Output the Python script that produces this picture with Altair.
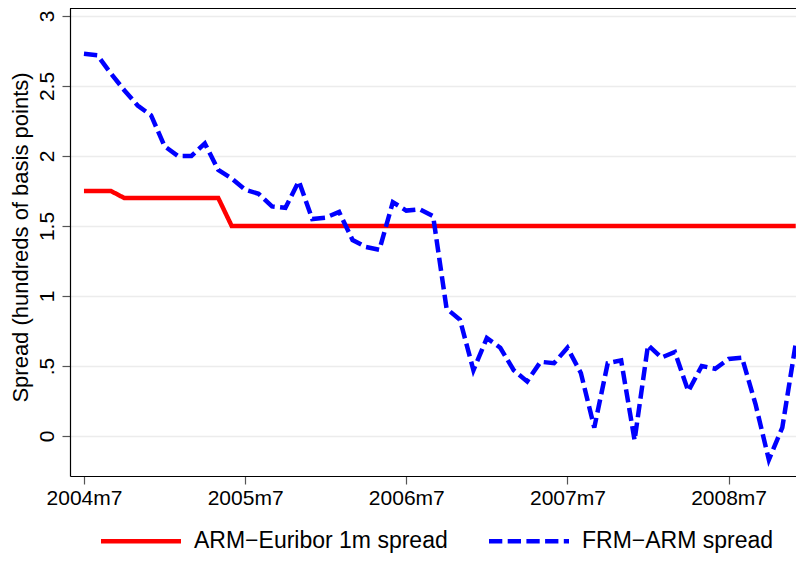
import altair as alt
import pandas as pd

# ---- data ----
month_index = list(range(54))  # 0 = 2004m7 ... 53 = 2008m12

arm_euribor = [1.75, 1.75, 1.75, 1.70, 1.70, 1.70, 1.70, 1.70, 1.70, 1.70,
               1.70, 1.50, 1.50, 1.50, 1.50, 1.50, 1.50, 1.50, 1.50, 1.50,
               1.50, 1.50, 1.50, 1.50, 1.50, 1.50, 1.50, 1.50, 1.50, 1.50,
               1.50, 1.50, 1.50, 1.50, 1.50, 1.50, 1.50, 1.50, 1.50, 1.50,
               1.50, 1.50, 1.50, 1.50, 1.50, 1.50, 1.50, 1.50, 1.50, 1.50,
               1.50, 1.50, 1.50, 1.50]

frm_arm = [2.73, 2.72, 2.59, 2.47, 2.36, 2.29, 2.07, 2.00, 2.00, 2.09,
           1.90, 1.84, 1.76, 1.73, 1.64, 1.63, 1.82, 1.55, 1.56, 1.60,
           1.40, 1.35, 1.33, 1.67, 1.61, 1.62, 1.57, 0.91, 0.83, 0.47,
           0.70, 0.63, 0.47, 0.39, 0.53, 0.52, 0.63, 0.45, 0.06, 0.52,
           0.54, -0.03, 0.65, 0.56, 0.60, 0.32, 0.50, 0.48, 0.55, 0.56,
           0.23, -0.17, 0.06, 0.66]

series_names = ["ARM\u2212Euribor 1m spread", "FRM\u2212ARM spread"]
series_colors = ["#ff0000", "#0000ff"]
series_dashes = [[1, 0], [13.3, 5.4]]

x_tick_values = [0, 12, 24, 36, 48]
x_tick_labels = ["2004m7", "2005m7", "2006m7", "2007m7", "2008m7"]
y_tick_values = [0, 0.5, 1, 1.5, 2, 2.5, 3]
y_tick_labels = ["0", ".5", "1", "1.5", "2", "2.5", "3"]

y_title = "Spread (hundreds of basis points)"

# ---- table ----
rows = []
for name, vals in zip(series_names, [arm_euribor, frm_arm]):
    for m, v in zip(month_index, vals):
        rows.append({"month": m, "value": v, "series": name})
df = pd.DataFrame(rows)


def label_expr(values, labels):
    expr = "''"
    for v, l in reversed(list(zip(values, labels))):
        expr = f"abs(datum.value - ({v})) < 0.0001 ? '{l}' : ({expr})"
    return expr


FONT = "Liberation Sans"
W, H = 726, 468

lines = alt.Chart(df).mark_line(strokeWidth=4.5).encode(
    x=alt.X(
        "month:Q",
        scale=alt.Scale(domain=[-1.04, 53.02], nice=False, zero=False),
        axis=alt.Axis(
            values=x_tick_values,
            labelExpr=label_expr(x_tick_values, x_tick_labels),
            title=None,
            grid=False,
            domain=True,
            domainColor="black",
            domainWidth=1.2,
            tickSize=8,
            tickWidth=1.2,
            tickColor="#555555",
            labelFontSize=21,
            labelFont=FONT,
            labelColor="black",
            labelPadding=3,
            labelFlush=False,
        ),
    ),
    y=alt.Y(
        "value:Q",
        scale=alt.Scale(domain=[-0.2857, 3.057], nice=False, zero=False),
        axis=alt.Axis(
            values=y_tick_values,
            labelExpr=label_expr(y_tick_values, y_tick_labels),
            title=y_title,
            titleFont=FONT,
            titleFontSize=22,
            titleFontWeight="normal",
            titleColor="black",
            titleAngle=270,
            titleAlign="center",
            titleBaseline="bottom",
            titleX=-38,
            titleY=229,
            grid=True,
            gridColor="#ececec",
            gridWidth=1.5,
            domain=True,
            domainColor="black",
            domainWidth=1.2,
            tickSize=8,
            tickWidth=1.2,
            tickColor="#555555",
            labelFontSize=21,
            labelFont=FONT,
            labelColor="black",
            labelAngle=270,
            labelAlign="center",
            labelBaseline="bottom",
            labelPadding=5,
            labelFlush=False,
        ),
    ),
    color=alt.Color(
        "series:N",
        scale=alt.Scale(domain=series_names, range=series_colors),
        title=None,
        legend=alt.Legend(
            orient="none",
            legendX=28.5,
            legendY=490.5,
            direction="horizontal",
            symbolType="stroke",
            symbolSize=6400,
            symbolStrokeWidth=4.5,
            labelFontSize=23,
            labelFont=FONT,
            labelColor="black",
            labelOffset=10.5,
            labelLimit=500,
            columnPadding=31,
            padding=0,
        ),
    ),
    strokeDash=alt.StrokeDash(
        "series:N",
        scale=alt.Scale(domain=series_names, range=series_dashes),
        title=None,
    ),
)

# top edge of the plot frame
top_edge = alt.Chart(df).mark_rule(color="black", strokeWidth=1.2).encode(
    x=alt.value(0), x2=alt.value(W), y=alt.value(0)
)

chart = alt.layer(lines, top_edge).properties(
    width=W,
    height=H,
    padding={"left": 62, "top": 0, "right": 0, "bottom": 78},
    autosize=alt.AutoSizeParams(type="none"),
    background="white",
).configure_view(
    stroke=None,
)

chart.save("out.html", embed_options={"renderer": "svg", "actions": False})
